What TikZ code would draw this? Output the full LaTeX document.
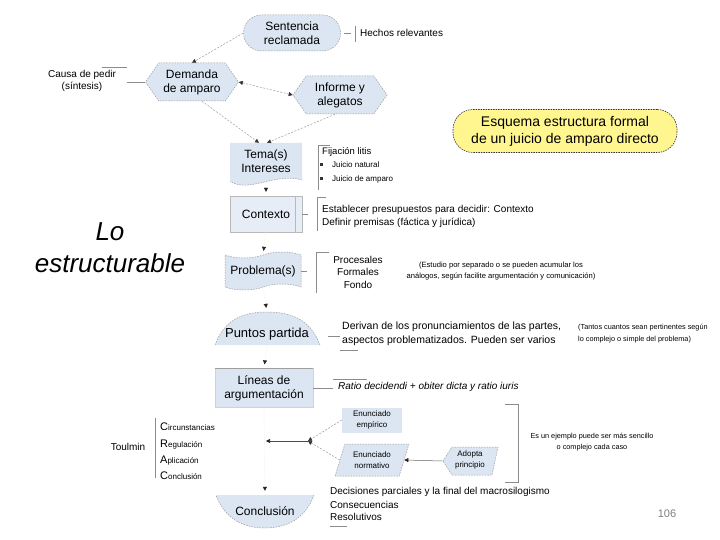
\documentclass[tikz,border=0pt]{standalone}
\usepackage{fontspec}
\setmainfont{Liberation Sans}
\usetikzlibrary{shapes.symbols,shapes.misc,shapes.geometric,arrows.meta,calc}
\definecolor{nodefill}{HTML}{DCE6F2}
\definecolor{edgegray}{HTML}{9C9C9C}
\definecolor{yelfill}{HTML}{FFF68F}
\definecolor{brkgray}{HTML}{8C8C8C}
\begin{document}
\begin{tikzpicture}[x=1pt,y=-1pt,
  base/.style={inner sep=0pt, align=center, font=\fontsize{12}{14}\selectfont},
  dashb/.style={draw=edgegray, dash pattern=on 1.5pt off 1.2pt, line width=0.5pt},
  note/.style={inner sep=0pt, anchor=west, align=left, font=\fontsize{10}{12.5}\selectfont},
  tiny/.style={inner sep=0pt, align=center, font=\fontsize{7.6}{11}\selectfont},
  brk/.style={draw=brkgray, line width=0.6pt},
  dconn/.style={draw=edgegray, dash pattern=on 2pt off 1.5pt, line width=0.5pt, -{Triangle[length=4pt,width=4pt,color=black!80]}},
  vconn/.style={draw=black!4, line width=0.4pt, -{Triangle[length=4pt,width=4pt,color=black!85]}, shorten >=4pt},
  sized/.style={inner sep=0pt, draw=none},
]
\useasboundingbox (0,0) rectangle (720,540);
\fill[white] (0,0) rectangle (720,540);

% ---- custom shapes ----
\fill[nodefill] (230,143) -- (302,143) -- (302,180) .. controls (275,172) and (248,194) .. (230,181) -- cycle;
\draw[dashb] (302,180) .. controls (275,172) and (248,194) .. (230,181);
\fill[nodefill] (215,345) .. controls (225,318) and (245,312) .. (267,312) .. controls (289,312) and (310,318) .. (320,345) -- cycle;
\draw[dashb] (215,345) .. controls (225,318) and (245,312) .. (267,312) .. controls (289,312) and (310,318) .. (320,345);
\fill[nodefill] (216,495) -- (314,495) .. controls (305,520) and (285,528) .. (265,528) .. controls (245,528) and (225,520) .. (216,495) -- cycle;
\draw[dashb] (314,495) .. controls (305,520) and (285,528) .. (265,528) .. controls (245,528) and (225,520) .. (216,495);
\filldraw[fill=nodefill, dashb] (443,461) -- (452,447) -- (498,447) -- (492,475) -- (452,475) -- cycle;

% ---- nodes ----
\node[base, dashb, fill=nodefill, rounded corners=18pt, minimum width=97pt, minimum height=36pt] (sent) at (292,33) {Sentencia\\reclamada};
\node[base, signal, signal to=east and west, signal pointer angle=110, dashb, fill=nodefill, minimum width=93pt, minimum height=38pt] (dem) at (192,82) {Demanda\\de amparo};
\node[base, signal, signal to=east and west, signal pointer angle=110, dashb, fill=nodefill, minimum width=94pt, minimum height=38pt] (inf) at (340,95) {Informe y\\alegatos};
\node[base, font=\fontsize{10}{12.5}\selectfont] (causa) at (82,81) {Causa de pedir\\(síntesis)};
\node[note] (hechos) at (360,33) {Hechos relevantes};

\node[base, font=\fontsize{14}{17}\selectfont, draw=black!80, dash pattern=on 1.5pt off 1pt, line width=0.6pt, fill=yelfill, rounded corners=20pt, minimum width=224pt, minimum height=43pt] (esq) at (565,131) {Esquema estructura formal\\de un juicio de amparo directo};

\node[sized, minimum width=72pt, minimum height=44pt] (tema) at (266,165) {};
\node[base] (tematxt) at (266,161) {Tema(s)\\Intereses};
\node[note, font=\fontsize{9.5}{11}\selectfont] (fij) at (322,152) {Fijación litis};
\node[note, font=\fontsize{8}{10}\selectfont] (jn) at (332,165) {Juicio natural};
\node[note, font=\fontsize{8}{10}\selectfont] (ja) at (332,179) {Juicio de amparo};
\fill[black!80] (320,163.5) rectangle (322.5,166);
\fill[black!80] (320,177.5) rectangle (322.5,180);

\node[base, draw=gray!55, fill=nodefill!70, minimum width=72pt, minimum height=36pt] (ctx) at (266,214) {Contexto};
\draw[gray!55] ([xshift=-7pt]ctx.north east) -- ([xshift=-7pt]ctx.south east);
\node[note] (ctx1) at (322,210) {Establecer presupuestos para decidir: Contexto};
\node[note] (ctx2) at (322,223) {Definir premisas (fáctica y jurídica)};

\node[base, tape, tape bend top=in and out, tape bend bottom=in and out, tape bend height=6pt, dashb, fill=nodefill, minimum width=76pt, minimum height=38pt] (prob) at (263,271) {Problema(s)};
\node[base, font=\fontsize{10}{12.5}\selectfont] (proc) at (358,272) {Procesales\\Formales\\Fondo};
\node[tiny] (estu) at (501,271) {(Estudio por separado o se pueden acumular los\\análogos, según facilite argumentación y comunicación)};

\node[sized, minimum width=105pt, minimum height=33pt] (punt) at (267,328.5) {};
\node[base, font=\fontsize{13}{15}\selectfont] (punttxt) at (267,334) {Puntos partida};
\node[note, font=\fontsize{10.5}{14}\selectfont] (der) at (342,333.5) {Derivan de los pronunciamientos de las partes,\\aspectos problematizados. Pueden ser varios};
\node[note, font=\fontsize{7.3}{12}\selectfont] (tant) at (578,333.5) {(Tantos cuantos sean pertinentes según\\lo complejo o simple del problema)};

\node[base, fill=nodefill, draw=gray!35, minimum width=98pt, minimum height=39pt] (lin) at (264,388) {Líneas de\\argumentación};
\draw[gray!75] (lin.north west) -- (lin.north east);
\node[note, font=\fontsize{10}{12}\selectfont\itshape] (ratio) at (338,387) {Ratio decidendi + obiter dicta y ratio iuris};

\node[base, font=\fontsize{8}{11}\selectfont, fill=nodefill, minimum width=60pt, minimum height=25pt] (emp) at (372,420) {Enunciado\\empírico};
\node[base, font=\fontsize{8}{11}\selectfont, trapezium, trapezium left angle=68, trapezium right angle=112, trapezium stretches=true, dashb, fill=nodefill, minimum width=74pt, minimum height=32pt] (norm) at (372,460) {Enunciado\\normativo};
\node[sized, minimum width=55pt, minimum height=28pt] (adop) at (470,461) {};
\node[base, font=\fontsize{8}{11}\selectfont] (adoptxt) at (470,460) {Adopta\\principio};
\node[tiny, font=\fontsize{7.3}{11}\selectfont] (ejem) at (592,442) {Es un ejemplo puede ser más sencillo\\o complejo cada caso};

\node[base, font=\fontsize{10}{12}\selectfont] (toul) at (128,447) {Toulmin};
\node[note, font=\fontsize{8}{10}\selectfont] (t1) at (160,427) {{\fontsize{11}{12}\selectfont C}ircunstancias};
\node[note, font=\fontsize{8}{10}\selectfont] (t2) at (160,445) {{\fontsize{11}{12}\selectfont R}egulación};
\node[note, font=\fontsize{8}{10}\selectfont] (t3) at (160,461) {{\fontsize{11}{12}\selectfont A}plicación};
\node[note, font=\fontsize{8}{10}\selectfont] (t4) at (160,476) {{\fontsize{11}{12}\selectfont C}onclusión};

\node[sized, minimum width=98pt, minimum height=33pt] (concl) at (265,511.5) {};
\node[base] (concltxt) at (265,511) {Conclusión};
\node[note] (c1) at (330,492) {Decisiones parciales y la final del macrosilogismo};
\node[note] (c2) at (330,504.5) {Consecuencias};
\node[note] (c3) at (330,517) {Resolutivos};

\node[font=\fontsize{26}{32}\selectfont\itshape, align=center, inner sep=0pt] (lo) at (110,248) {Lo\\estructurable};
\node[font=\fontsize{11}{13}\selectfont, text=gray, inner sep=0pt] (pg) at (667,514) {106};

% ---- brackets and short lines ----
\draw[brk] (102,67) -- (127,67);
\draw[brk] (127,82) -- (dem.west);
\draw[brk] ([xshift=3pt]sent.east) -- ++(7,0);
\draw[brk] (355,26) -- (355,42);
\draw[brk] (330,145) -- (318,145) -- (318,190);
\draw[brk] (ctx.east) -- ++(6,0);
\draw[brk] (326,197) -- (317,197) -- (317,231);
\draw[brk] (prob.east) -- ++(6,0);
\draw[brk] (329,252) -- (316,252) -- (316,293);
\draw[brk] (328,336) -- (340,336);
\draw[brk] (340,350) -- (358,350);
\draw[brk] (lin.east) -- ++(20,0);
\draw[brk] (333,379) -- (367,379);
\draw[brk] (505,404) -- (518,404) -- (518,482) -- (505,482);
\draw[brk] (155,418) -- (155,478);
\draw[brk] (330,526) -- (347,526);

% ---- connectors ----
\draw[dconn] (sent.west) -- (dem.north);
\draw[dconn, {Triangle[length=4pt,width=4pt,color=black!80]}-{Triangle[length=4pt,width=4pt,color=black!80]}] (inf.west) -- (dem.east);
\draw[dconn] ([xshift=10pt]dem.south) -- ([xshift=-7pt]tema.north);
\draw[dconn] ([xshift=-5pt]inf.south) -- ([xshift=1pt]tema.north);
\draw[vconn] (tema.south) -- (ctx.north);
\draw[vconn] (ctx.south) -- (prob.north);
\draw[vconn] (prob.south) -- (punt.north);
\draw[vconn] (punt.south) -- (lin.north);
\draw[vconn] (lin.south) -- (concl.north);
\coordinate (dec) at (308,441);
\coordinate (lt) at (266,441);
\draw[dconn] (emp.west) -- (dec);
\draw[dconn] (norm.west) -- (dec);
\draw[line width=0.6pt, black!70, -{Triangle[length=4pt,width=4pt,color=black!85]}] (dec) -- (lt);
\draw[line width=0.5pt, black!60, -{Triangle[length=4pt,width=4pt,color=black!85]}] (adop.west) -- (norm.east);
\end{tikzpicture}
\end{document}
